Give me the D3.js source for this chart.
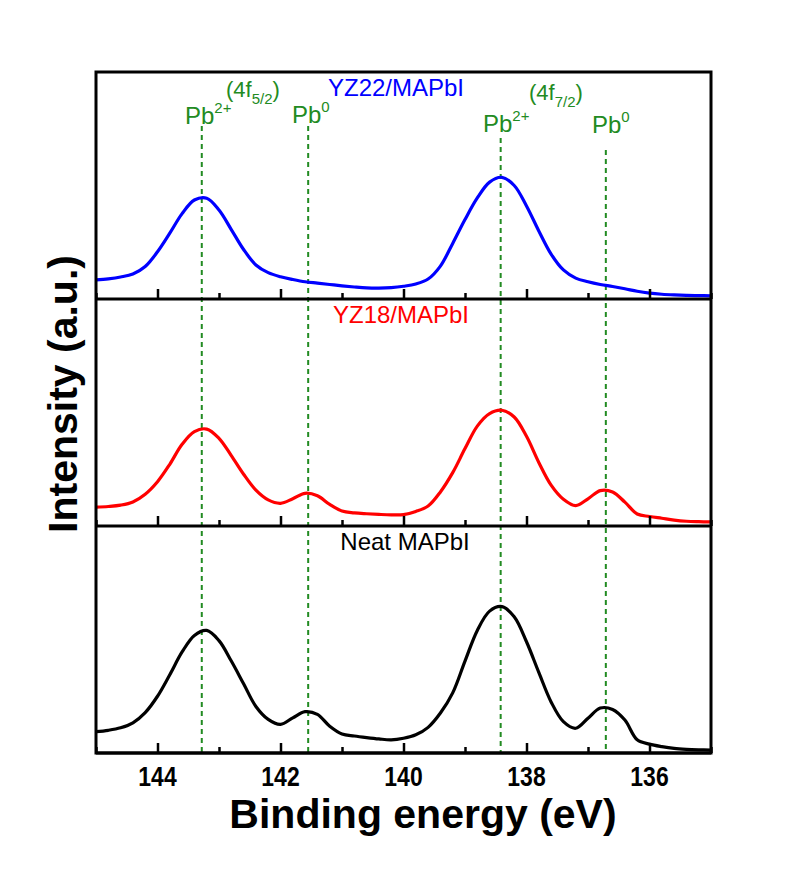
<!DOCTYPE html>
<html lang="en">
<head>
<meta charset="utf-8">
<script src="https://d3js.org/d3.v7.min.js"></script>
<style>
  body { margin: 0; background: #fff; }
  text { font-family: Arial, "Liberation Sans", sans-serif; }
</style>
</head>
<body>
<div id="chart"></div>
<script>

// binding energy grid (eV), 145 -> 135 in 0.2 eV steps
var energy = [145.0, 144.8, 144.6, 144.4, 144.2, 144.0, 143.8, 143.6, 143.4, 143.2,
  143.0, 142.8, 142.6, 142.4, 142.2, 142.0, 141.8, 141.6, 141.4, 141.2,
  141.0, 140.8, 140.6, 140.4, 140.2, 140.0, 139.8, 139.6, 139.4, 139.2,
  139.0, 138.8, 138.6, 138.4, 138.2, 138.0, 137.8, 137.6, 137.4, 137.2,
  137.0, 136.8, 136.6, 136.4, 136.2, 136.0, 135.8, 135.6, 135.4, 135.2,
  135.0];

// intensities (a.u., 0-100 inside each panel)
var yz22 = [8.4, 8.9, 9.7, 11.0, 14.3, 20.8, 29.0, 37.6, 43.6, 44.4,
  39.2, 30.6, 21.8, 15.0, 11.6, 9.8, 8.6, 7.6, 7.0, 6.4,
  5.8, 5.3, 4.9, 4.8, 5.0, 5.6, 6.6, 8.8, 14.5, 24.5,
  35.0, 44.5, 51.5, 53.6, 50.0, 41.0, 30.0, 19.8, 12.8, 9.2,
  7.6, 6.4, 5.5, 4.5, 3.4, 2.6, 2.1, 1.8, 1.6, 1.5,
  1.4];

var yz18 = [8.3, 8.6, 9.2, 10.6, 14.0, 19.5, 27.2, 36.0, 41.6, 42.7,
  38.6, 31.0, 22.8, 15.8, 11.5, 10.0, 12.0, 14.4, 13.3, 9.5,
  6.6, 5.8, 5.4, 5.1, 4.9, 5.0, 6.4, 8.8, 15.0, 23.5,
  34.1, 44.0, 49.5, 51.0, 48.0, 39.5, 28.0, 18.0, 11.8, 9.0,
  12.0, 15.6, 15.0, 10.5, 5.3, 4.2, 3.4, 2.6, 2.1, 1.9,
  1.8];

var neat = [9.4, 10.0, 11.1, 13.3, 17.8, 25.0, 34.5, 44.5, 51.8, 54.0,
  49.5, 40.5, 30.5, 20.5, 14.8, 12.6, 15.5, 18.2, 17.0, 11.8,
  8.4, 7.5, 6.8, 6.2, 5.8, 6.5, 8.0, 11.3, 17.6, 26.5,
  40.5, 54.0, 62.5, 64.5, 60.0, 49.0, 35.5, 22.5, 13.8, 10.9,
  15.3, 19.8, 19.2, 14.5, 5.8, 3.9, 2.8, 2.0, 1.6, 1.4,
  1.3];

var peakPos = [143.28, 141.55, 138.42, 136.71];
var xTicks = [144, 142, 140, 138, 136];
var xMinor = [145, 143, 141, 139, 137, 135];

var panels = [
  {name: "YZ22/MAPbI", values: yz22, color: "#0000ff", cx: 396},
  {name: "YZ18/MAPbI", values: yz18, color: "#ff0000", cx: 401},
  {name: "Neat MAPbI", values: neat, color: "#000000", cx: 405}
];

var W = 807, H = 871;
var mLeft = 96, mRight = 711, mTop = 72, mBottom = 753;
var green = "#228b22";

var svg = d3.select("#chart").append("svg")
  .attr("width", W).attr("height", H);

var x = d3.scaleLinear().domain([145, 135]).range([mLeft, mRight]);
var band = d3.scaleBand().domain(panels.map(function(d){ return d.name; }))
  .range([mTop, mBottom]);

// dashed peak markers (behind the curves)
var dashTop = [126, 126, 138, 150];
svg.selectAll(".peak")
  .data(peakPos)
  .enter().append("line")
    .attr("x1", function(d){ return x(d); })
    .attr("x2", function(d){ return x(d); })
    .attr("y1", function(d, i){ return dashTop[i]; })
    .attr("y2", mBottom)
    .attr("stroke", green)
    .attr("stroke-width", 2)
    .attr("stroke-dasharray", "5,4");

panels.forEach(function(p) {
  var y0 = band(p.name), y1 = y0 + band.bandwidth();
  var y = d3.scaleLinear().domain([0, 100]).range([y1, y0]);

  var line = d3.line()
    .x(function(d, i){ return x(energy[i]); })
    .y(function(d){ return y(d); })
    .curve(d3.curveCatmullRom.alpha(0.5));

  svg.append("path")
    .datum(p.values)
    .attr("d", line)
    .attr("fill", "none")
    .attr("stroke", p.color)
    .attr("stroke-width", 3.2)
    .attr("stroke-linejoin", "round");

  // inward ticks on the lower edge of each panel
  var ax = svg.append("g")
    .attr("transform", "translate(0," + y1 + ")")
    .call(d3.axisTop(x).tickValues(xTicks).tickSize(10).tickFormat(""));
  ax.select(".domain").remove();
  ax.selectAll("line").attr("stroke-width", 2.5);

  var mx = svg.append("g")
    .attr("transform", "translate(0," + y1 + ")")
    .call(d3.axisTop(x).tickValues(xMinor).tickSize(6).tickFormat(""));
  mx.select(".domain").remove();
  mx.selectAll("line").attr("stroke-width", 2.5);

  svg.append("text")
    .attr("x", p.cx)
    .attr("y", y0 + 24)
    .attr("text-anchor", "middle")
    .attr("font-size", 24)
    .attr("fill", p.color)
    .text(p.name);

  svg.append("line")
    .attr("x1", mLeft).attr("x2", mRight)
    .attr("y1", y1).attr("y2", y1)
    .attr("stroke", "#000").attr("stroke-width", 3);
});

// frame
svg.append("rect")
  .attr("x", mLeft).attr("y", mTop)
  .attr("width", mRight - mLeft).attr("height", mBottom - mTop)
  .attr("fill", "none").attr("stroke", "#000").attr("stroke-width", 3);

// bottom tick labels (slightly condensed like the original)
svg.append("g").selectAll("text")
  .data(xTicks)
  .enter().append("text")
    .attr("transform", function(d){ return "translate(" + x(d) + ",786) scale(0.85,1)"; })
    .attr("text-anchor", "middle")
    .attr("font-size", 27)
    .attr("font-weight", "bold")
    .text(function(d){ return d; });

// axis titles
svg.append("text")
  .attr("x", 423).attr("y", 828)
  .attr("text-anchor", "middle")
  .attr("font-size", 41)
  .attr("font-weight", "bold")
  .text("Binding energy (eV)");

svg.append("text")
  .attr("transform", "translate(77,394) rotate(-90)")
  .attr("text-anchor", "middle")
  .attr("font-size", 41)
  .attr("font-weight", "bold")
  .text("Intensity (a.u.)");

// peak labels
function pbLabel(px, py, sup) {
  var t = svg.append("text").attr("x", px).attr("y", py)
    .attr("font-size", 24).attr("fill", green);
  t.append("tspan").text("Pb");
  t.append("tspan").attr("font-size", 15).attr("dy", -11).text(sup);
}
function orbLabel(px, py, sub) {
  var t = svg.append("text").attr("x", px).attr("y", py)
    .attr("font-size", 22).attr("fill", green);
  t.append("tspan").text("(4f");
  t.append("tspan").attr("font-size", 15).attr("dy", 7).text(sub);
  t.append("tspan").attr("dy", -7).text(")");
}
pbLabel(185, 124, "2+");
pbLabel(292, 123, "0");
pbLabel(483, 132, "2+");
pbLabel(592, 133, "0");
orbLabel(226, 97, "5/2");
orbLabel(529, 100, "7/2");

</script>
</body>
</html>
